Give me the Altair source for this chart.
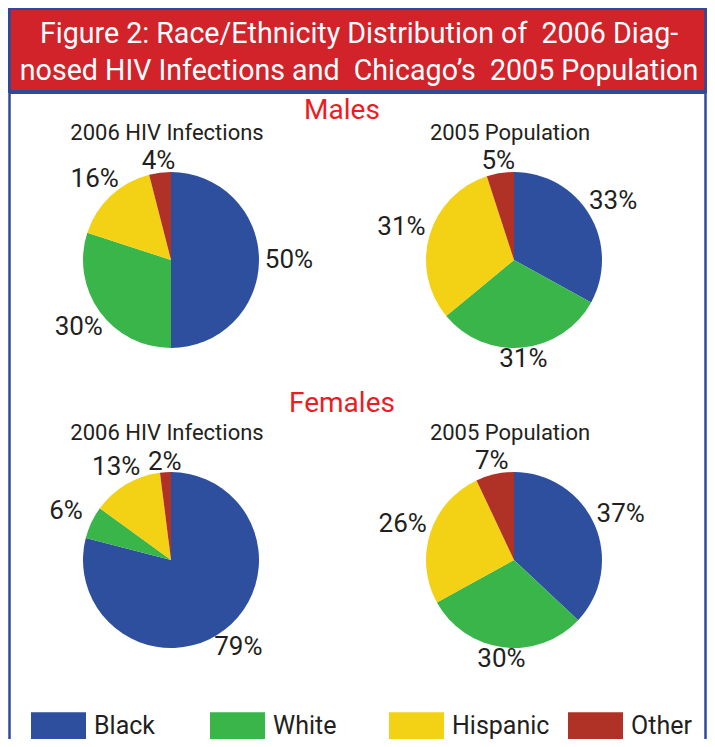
import altair as alt
import pandas as pd

GROUPS = ["Black", "White", "Hispanic", "Other"]
COLORS = ["#2E4F9E", "#39B54A", "#F3D115", "#B03226"]
SEXES = ["Males", "Females"]
MEASURES = ["2006 HIV Infections", "2005 Population"]
MALES_HIV = [50, 30, 16, 4]
MALES_POP = [33, 31, 31, 5]
FEMALES_HIV = [79, 6, 13, 2]
FEMALES_POP = [37, 30, 26, 7]
TITLE_LINES = [
    "Figure 2: Race/Ethnicity Distribution of \u00a02006 Diag-",
    "nosed HIV Infections and \u00a0Chicago\u2019s \u00a02005 Population",
]

FONT = "Roboto"
INK = "#231F20"
FRAME = "#2E4A9A"
W, H = 699, 731

series = [
    ("Males", MEASURES[0], MALES_HIV),
    ("Males", MEASURES[1], MALES_POP),
    ("Females", MEASURES[0], FEMALES_HIV),
    ("Females", MEASURES[1], FEMALES_POP),
]
rows = []
for sex, measure, vals in series:
    for i, (g, v) in enumerate(zip(GROUPS, vals)):
        rows.append(dict(sex=sex, measure=measure, group=g, order=i,
                         value=v, label=f"{v}%", key=f"{sex}|{measure}"))
df = pd.DataFrame(rows)

xs = alt.Scale(type="point", domain=MEASURES, range=[163, 506], padding=0)
ys = alt.Scale(type="point", domain=SEXES, range=[252, 552], padding=0)
X = alt.X("measure:N", scale=xs, axis=None)
Y = alt.Y("sex:N", scale=ys, axis=None)
color = alt.Color(
    "group:N",
    scale=alt.Scale(domain=GROUPS, range=COLORS),
    legend=alt.Legend(
        title=None, orient="none", legendX=23, legendY=690,
        direction="horizontal", columns=4, gridAlign="all",
        columnPadding=18, symbolType="M-1,-0.5H1V0.5H-1Z",
        symbolSize=3025, symbolStrokeWidth=0, symbolOpacity=1,
        labelFont=FONT, labelFontSize=25, labelColor=INK,
        labelOffset=8, labelBaseline="middle",
    ),
)

# label distance grows toward the sides (labels sit wider than tall)
label_radius = {"expr": "97 + 21*abs(sin(scale('theta', (datum.value_start + datum.value_end)/2)))"}

base = alt.Chart(df)
layers = []
for sex, measure, _ in series:
    k = f"{sex}|{measure}"
    sub = base.transform_filter(alt.datum.key == k)
    arc = sub.mark_arc(radius=88, stroke=None).encode(
        x=X, y=Y,
        theta=alt.Theta("value:Q", stack=True),
        order=alt.Order("order:Q"),
        color=color,
    )
    txt = sub.mark_text(radius=label_radius, font=FONT, fontSize=26, color=INK,
                        align="center", baseline="middle").encode(
        x=X, y=Y,
        theta=alt.Theta("value:Q", stack=True),
        order=alt.Order("order:Q"),
        text="label:N",
    )
    layers += [arc, txt]

# subtitles above each pie
sub_df = pd.DataFrame([dict(sex=s, measure=m) for s in SEXES for m in MEASURES])
subtitles = alt.Chart(sub_df).mark_text(
    font=FONT, fontSize=22, color=INK, dy=-120, dx=-4, baseline="alphabetic"
).encode(x=X, y=Y, text="measure:N")

# section titles
sec = []
for s, d in [("Males", -141), ("Females", -148)]:
    sec.append(
        alt.Chart(pd.DataFrame({"sex": [s]})).mark_text(
            font=FONT, fontSize=28, color="#ED1C24", dy=d, baseline="alphabetic"
        ).encode(x=alt.value(334), y=Y, text="sex:N")
    )

one = pd.DataFrame({"a": [0]})
banner = alt.Chart(one).mark_rect(fill="#D2232A", stroke=FRAME, strokeWidth=2).encode(
    x=alt.value(1), x2=alt.value(W - 1), y=alt.value(1), y2=alt.value(84)
)
banner_line = alt.Chart(one).mark_rule(color=FRAME, strokeWidth=4).encode(
    x=alt.value(1), x2=alt.value(W - 1), y=alt.value(84)
)
left = alt.Chart(one).mark_rule(color=FRAME, strokeWidth=2.5).encode(
    x=alt.value(1.5), y=alt.value(0), y2=alt.value(H)
)
right = alt.Chart(one).mark_rule(color=FRAME, strokeWidth=2.5).encode(
    x=alt.value(W - 1.5), y=alt.value(0), y2=alt.value(H)
)
title = alt.Chart(one).mark_text(
    font=FONT, fontSize=28.6, color="white", lineHeight=37,
    align="center", baseline="alphabetic"
).encode(x=alt.value(351), y=alt.value(35), text=alt.value(TITLE_LINES))

chart = alt.layer(
    banner, banner_line, left, right, title, subtitles, *sec, *layers
).properties(
    width=W, height=H, padding=0, autosize="none", background="white"
).configure_view(stroke=None)

chart.save("out.html", embed_options={"renderer": "svg", "actions": False})
